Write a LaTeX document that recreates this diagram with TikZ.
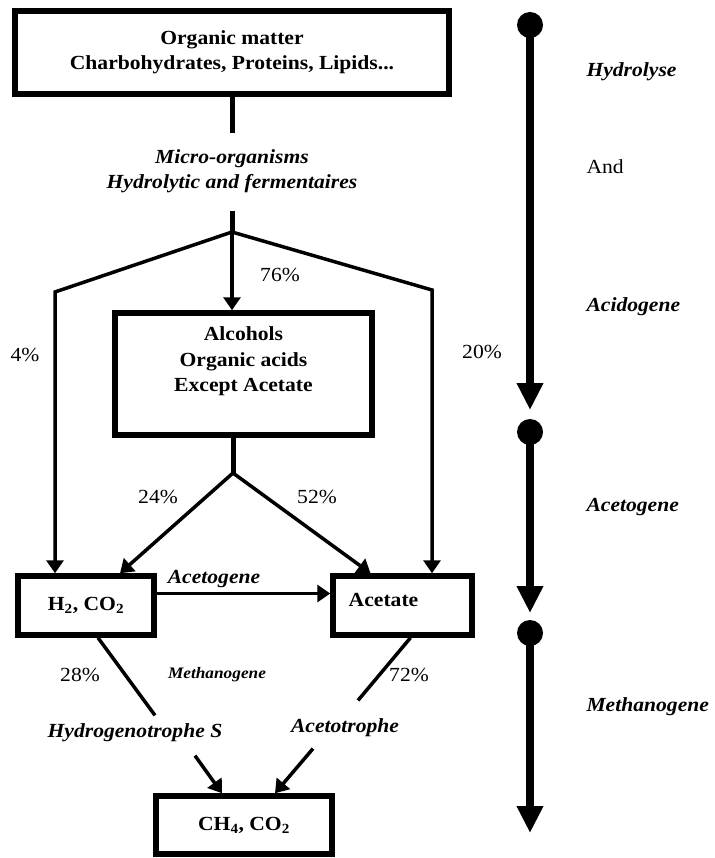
\documentclass[tikz,border=0pt]{standalone}
\usepackage{fontspec}
\setmainfont[FakeStretch=1.08]{Liberation Serif}
\usetikzlibrary{arrows.meta}

\begin{document}
\begin{tikzpicture}[
    x=1pt, y=-1pt,
    box/.style={rectangle, draw, line width=5.5pt, align=center,
      font=\fontsize{20}{25}\selectfont\bfseries},
    boxtext/.style={align=center, font=\fontsize{20}{25.5}\selectfont\bfseries},
    note/.style={align=center, font=\fontsize{20}{25}\selectfont\bfseries\itshape},
    pct/.style={font=\fontsize{20}{25}\selectfont},
    stage/.style={anchor=west, font=\fontsize{20}{25}\selectfont\bfseries\itshape},
    stem/.style={line width=5pt},
    link/.style={line width=3.5pt},
    arr/.style={line width=3.5pt, -{Triangle[length=13pt, width=17pt]}},
    dot/.style={circle, fill, inner sep=0pt, minimum size=26pt},
    phase/.style={line width=8pt, -{Triangle[length=27pt, width=25pt]}}
  ]
  \useasboundingbox (0,0) rectangle (714,858);

  % boxes
  \node[box, minimum width=434pt, minimum height=83pt] (top) at (232,52.5)
    {Organic matter\\Charbohydrates, Proteins, Lipids...};
  \node[box, minimum width=257pt, minimum height=122pt] (alc) at (243.5,374) {};
  \node[boxtext] (alctext) at ([yshift=12.5pt]alc.center)
    {Alcohols\\Organic acids\\Except Acetate};
  \node[box, minimum width=136pt, minimum height=59pt] (h2) at (86,605.5)
    {H\textsubscript{2}, CO\textsubscript{2}};
  \node[box, minimum width=139pt, minimum height=59pt] (ace) at (402.5,605.5) {};
  \node[boxtext] (acetext) at ([xshift=-19pt, yshift=5.5pt]ace.center) {Acetate};
  \node[box, minimum width=176pt, minimum height=58pt] (ch4) at (244,825)
    {CH\textsubscript{4}, CO\textsubscript{2}};

  % texts between the boxes
  \node[note, minimum height=80pt] (micro) at (232,171)
    {Micro-organisms\\Hydrolytic and fermentaires};
  \node[note] (hydro) at (135,733) {Hydrogenotrophe S};
  \node[note] (acetotr) at (345,728) {Acetotrophe};
  \node[pct] (p76) at (280,275) {76\%};
  \node[pct] (p4) at (25,355) {4\%};
  \node[pct] (p20) at (482,352) {20\%};
  \node[pct] (p24) at (158,497) {24\%};
  \node[pct] (p52) at (317,497) {52\%};
  \node[pct] (p28) at (80,675) {28\%};
  \node[pct] (p72) at (409,675) {72\%};
  \node[note, font=\fontsize{16}{20}\selectfont\bfseries\itshape] (methmid) at (217,675) {Methanogene};

  \coordinate (fork) at (232,232);
  \coordinate (lbend) at (55,292);
  \coordinate (rbend) at (432,290);
  \coordinate (split) at (233,473);

  % connectors
  \draw[stem] (top) -- (232,133);
  \draw[stem] (micro) -- (fork);
  \draw[arr] (fork) -- (fork |- alc.north);
  \draw[arr] (fork) -- (lbend) -- (lbend |- h2.north);
  \draw[arr] (fork) -- (rbend) -- (rbend |- ace.north);
  \draw[stem] (split |- alc.south) -- (split);
  \draw[arr] (split) -- ([xshift=34pt]h2.north);
  \draw[arr] (split) -- ([xshift=-32pt]ace.north);
  \draw[arr] ([yshift=12pt]h2.east) -- ([yshift=12pt]ace.west)
    node[note, pos=0.33, above=1pt] {Acetogene};
  \draw[link] ([xshift=12pt]h2.south) -- ([xshift=20pt, yshift=5pt]hydro.north);
  \draw[link] ([xshift=8pt]ace.south) -- ([xshift=13pt, yshift=15pt]acetotr.north);
  \draw[arr] ([xshift=60pt, yshift=-10pt]hydro.south) -- ([xshift=-22pt]ch4.north);
  \draw[arr] ([xshift=-32pt, yshift=-8pt]acetotr.south) -- ([xshift=31pt]ch4.north);

  % phases
  \node[dot] (s1) at (530,25) {};
  \node[dot] (s2) at (530,432) {};
  \node[dot] (s3) at (530,633) {};
  \coordinate (e1) at (530,410);
  \coordinate (e2) at (530,613);
  \coordinate (e3) at (530,833);
  \draw[phase] (s1.center) -- (e1);
  \draw[phase] (s2.center) -- (e2);
  \draw[phase] (s3.center) -- (e3);

  \node[stage] (hydrolyse) at (583,72) {Hydrolyse};
  \node[pct, anchor=west] (and) at (583,167) {And};
  \node[stage] (acidogene) at (583,307) {Acidogene};
  \node[stage] (acetogene) at (583,507) {Acetogene};
  \node[stage] (methanogene) at (583,707) {Methanogene};
\end{tikzpicture}
\end{document}
